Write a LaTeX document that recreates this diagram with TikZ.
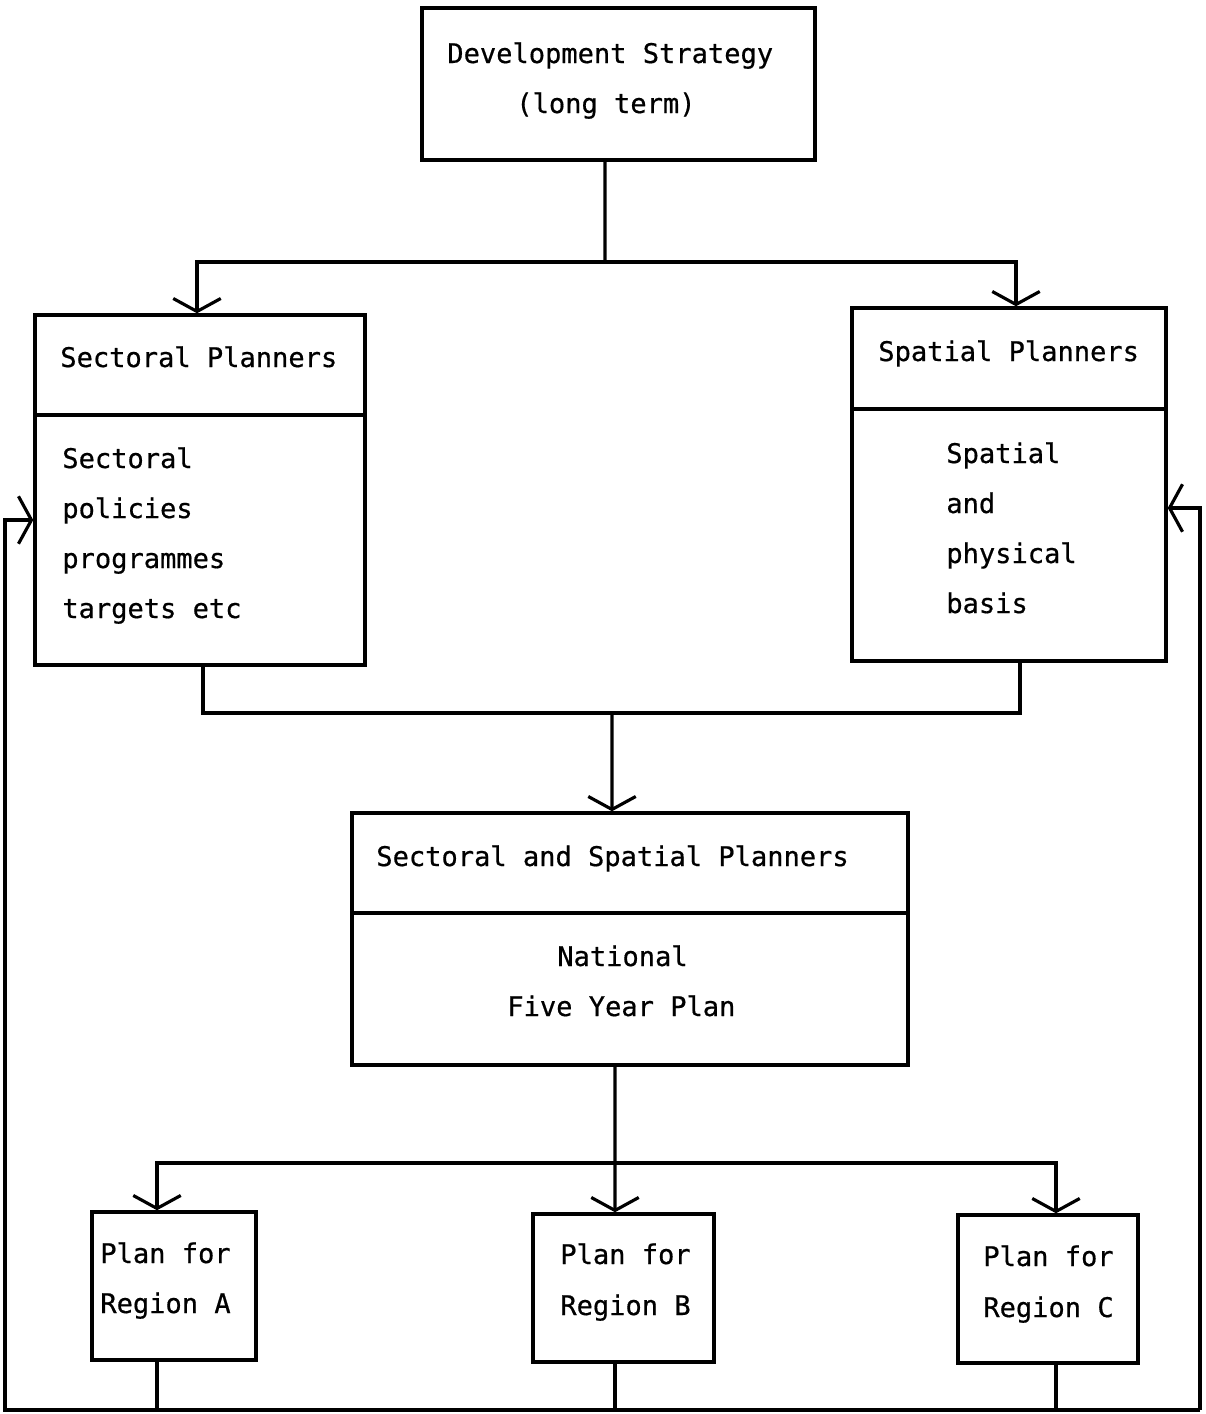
\documentclass[tikz,border=0pt]{standalone}
\usepackage{fontspec}
\setmonofont[FakeBold=0.6]{DejaVu Sans Mono}
\usetikzlibrary{arrows.meta}

\begin{document}
\begin{tikzpicture}[x=0.02cm, y=-0.02cm,
  box/.style={draw, line width=2pt, rectangle, inner sep=0pt},
  lbl/.style={anchor=base west, inner sep=0pt, font=\ttfamily\fontsize{15.4}{18}\selectfont},
  link/.style={line width=1.8pt},
  arr/.style={line width=1.8pt, -{Straight Barb[length=0.26cm, width=0.95cm, line width=1.8pt]}}]

\useasboundingbox (0,0) rectangle (1205,1414);

% --- boxes ---
\node[box, minimum width=7.86cm, minimum height=3.04cm] (dev)  at (618.5,84) {};
\node[box, minimum width=6.60cm, minimum height=7.00cm] (sect) at (200,490) {};
\node[box, minimum width=6.28cm, minimum height=7.06cm] (spat) at (1009,484.5) {};
\node[box, minimum width=11.12cm, minimum height=5.04cm] (nat) at (630,939) {};
\node[box, minimum width=3.28cm, minimum height=2.96cm] (rA) at (174,1286) {};
\node[box, minimum width=3.62cm, minimum height=2.96cm] (rB) at (623.5,1288) {};
\node[box, minimum width=3.60cm, minimum height=2.96cm] (rC) at (1048,1289) {};

% header dividers
\coordinate (dS) at (0,415);
\coordinate (dP) at (0,409);
\coordinate (dN) at (0,913);
\draw[line width=2pt] (sect.west |- dS) -- (sect.east |- dS);
\draw[line width=2pt] (spat.west |- dP) -- (spat.east |- dP);
\draw[line width=2pt] (nat.west |- dN) -- (nat.east |- dN);

% --- texts ---
\node[lbl] (t1) at (447,63)  {Development Strategy};
\node[lbl] (t2) at (516,113) {(long term)};

\node[lbl] (s0) at (60,367)  {Sectoral Planners};
\node[lbl] (s1) at (62,468)  {Sectoral};
\node[lbl] (s2) at (62,518)  {policies};
\node[lbl] (s3) at (62,568)  {programmes};
\node[lbl] (s4) at (62,618)  {targets etc};

\node[lbl] (p0) at (878,361) {Spatial Planners};
\node[lbl] (p1) at (946,463) {Spatial};
\node[lbl] (p2) at (946,513) {and};
\node[lbl] (p3) at (946,563) {physical};
\node[lbl] (p4) at (946,613) {basis};

\node[lbl] (n0) at (376,866)  {Sectoral and Spatial Planners};
\node[lbl] (n1) at (557,966)  {National};
\node[lbl] (n2) at (507,1016) {Five Year Plan};

\node[lbl] (a1) at (100,1263) {Plan for};
\node[lbl] (a2) at (100,1313) {Region A};
\node[lbl] (b1) at (560,1264) {Plan for};
\node[lbl] (b2) at (560,1315) {Region B};
\node[lbl] (c1) at (983,1266) {Plan for};
\node[lbl] (c2) at (983,1317) {Region C};

% --- connectors ---
% strategy to the two planner groups
\coordinate (top) at (605,262);
\draw[link] ([xshift=-0.27cm]dev.south) -- (top);
\draw[arr] (top) -| ([xshift=-0.06cm]sect.north);
\draw[arr] (top) -| ([xshift=0.14cm]spat.north);

% both planner groups into the national plan
\coordinate (mid) at (612,713);
\draw[link] ([xshift=0.06cm]sect.south) |- (mid);
\draw[link] ([xshift=0.22cm]spat.south) |- (mid);
\draw[arr] (mid) -- ([xshift=-0.36cm]nat.north);

% national plan to the regional plans
\coordinate (reg) at (615,1163);
\draw[link] ([xshift=-0.30cm]nat.south) -- (reg);
\draw[arr] (reg) -| ([xshift=-0.34cm]rA.north);
\draw[arr] (reg) -- ([xshift=-0.17cm]rB.north);
\draw[arr] (reg) -| ([xshift=0.16cm]rC.north);

% feedback from the regions back to both planner groups
\coordinate (fbL) at (5,1410);
\coordinate (fbR) at (1200,1410);
\coordinate (inL) at (5,520);
\coordinate (inR) at (1200,508);
\draw[link] ([xshift=-0.34cm]rA.south) -- ([xshift=-0.34cm]rA.south |- fbL);
\draw[link] ([xshift=-0.17cm]rB.south) -- ([xshift=-0.17cm]rB.south |- fbL);
\draw[link] ([xshift=0.16cm]rC.south) -- ([xshift=0.16cm]rC.south |- fbL);
\draw[arr] (fbR) -- (fbL) -- (inL) -- (sect.west |- inL);
\draw[arr] (fbR) -- (inR) -- (spat.east |- inR);

\end{tikzpicture}
\end{document}
